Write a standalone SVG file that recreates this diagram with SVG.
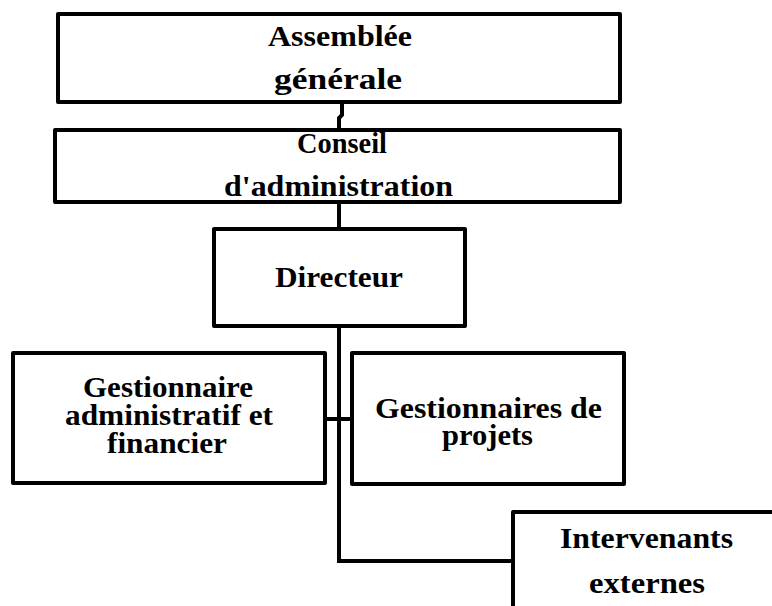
<svg xmlns="http://www.w3.org/2000/svg" width="772" height="606" viewBox="0 0 772 606">
<style>
.box{fill:#fff;stroke:#000;stroke-width:4;stroke-linejoin:round}
.con{fill:none;stroke:#000;stroke-width:4}
.t{font-family:"Liberation Serif","Times New Roman",serif;font-weight:bold;font-size:29px;fill:#000}
</style>
<rect width="772" height="606" fill="#fff"/>
<g id="connectors">
<path class="con" d="M342 102 V115 L339 118 V130"/>
<path class="con" d="M339 202 V229"/>
<path class="con" d="M339 326 V561 H513"/>
<path class="con" d="M325 419 H352" stroke-width="3.5"/>
</g>
<g id="assemblee">
<rect class="box" x="58" y="14" width="562" height="88"/>
<text class="t" x="268" y="46" textLength="144" lengthAdjust="spacingAndGlyphs">Assemblée</text>
<text class="t" x="274" y="89" textLength="128" lengthAdjust="spacingAndGlyphs">générale</text>
</g>
<g id="conseil">
<rect class="box" x="55" y="130" width="565" height="72"/>
<text class="t" x="297" y="153" textLength="90" lengthAdjust="spacingAndGlyphs">Conseil</text>
<text class="t" x="224" y="196" textLength="229" lengthAdjust="spacingAndGlyphs">d'administration</text>
</g>
<g id="directeur">
<rect class="box" x="214" y="229" width="251" height="97"/>
<text class="t" x="275" y="287" textLength="128" lengthAdjust="spacingAndGlyphs">Directeur</text>
</g>
<g id="gestionnaire-admin">
<rect class="box" x="13" y="353" width="312" height="130"/>
<text class="t" x="83" y="397" textLength="170" lengthAdjust="spacingAndGlyphs">Gestionnaire</text>
<text class="t" x="65" y="425" textLength="208" lengthAdjust="spacingAndGlyphs">administratif et</text>
<text class="t" x="107" y="453" textLength="120" lengthAdjust="spacingAndGlyphs">financier</text>
</g>
<g id="gestionnaires-projets">
<rect class="box" x="352" y="353" width="272" height="131"/>
<text class="t" x="375" y="418" textLength="227" lengthAdjust="spacingAndGlyphs">Gestionnaires de</text>
<text class="t" x="442" y="445" textLength="91" lengthAdjust="spacingAndGlyphs">projets</text>
</g>
<g id="intervenants">
<rect class="box" x="513" y="512" width="300" height="150"/>
<text class="t" x="560" y="548" textLength="173" lengthAdjust="spacingAndGlyphs">Intervenants</text>
<text class="t" x="589" y="593" textLength="116" lengthAdjust="spacingAndGlyphs">externes</text>
</g>
</svg>
